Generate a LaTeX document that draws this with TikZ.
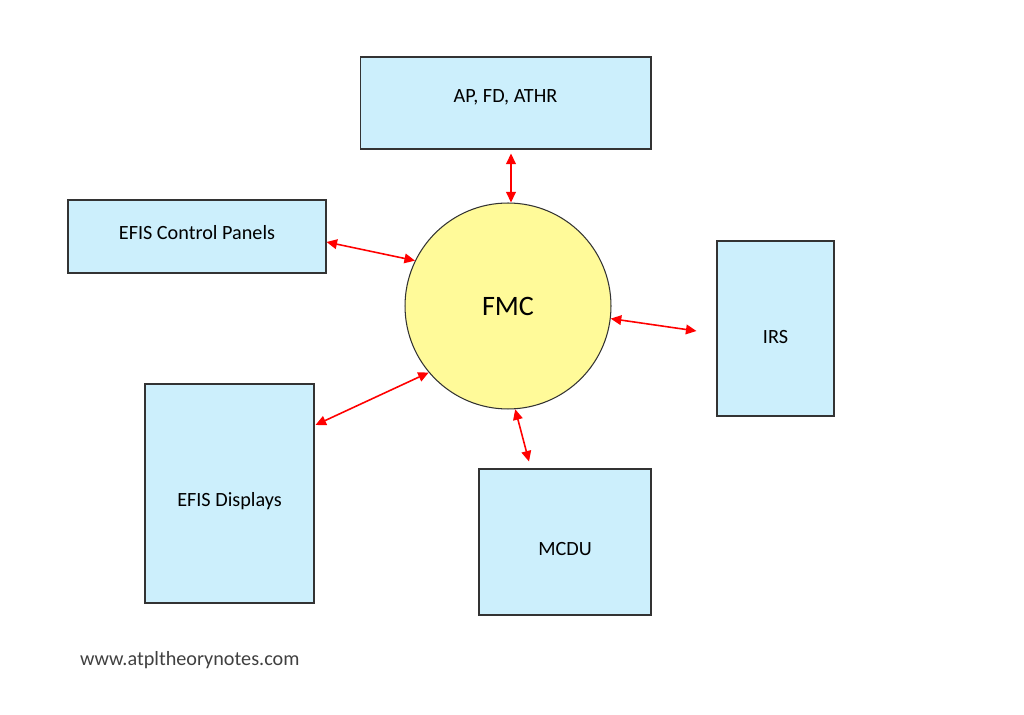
\documentclass[tikz,border=0pt]{standalone}
\usepackage{fontspec}
\setmainfont{Carlito}
\usetikzlibrary{calc}
\usetikzlibrary{arrows.meta}

\tikzset{
  unit/.style={draw=black!80, fill=cyan!20, line width=0.6pt, inner sep=0pt},
  unittext/.style={font=\fontsize{11.5}{13}\selectfont},
  fmcball/.style={circle, draw=black!80, fill=yellow!40, line width=0.6pt, minimum size=4.12cm, inner sep=0pt, font=\fontsize{16}{18}\selectfont},
  link/.style={draw=red, line width=0.9pt, {Triangle[length=6pt,width=5.5pt]}-{Triangle[length=6pt,width=5.5pt]}}
}

\begin{document}
\begin{tikzpicture}[x=0.02cm, y=-0.02cm]
\useasboundingbox (0,0) rectangle (1024,715);
% units round the FMC
\node[unit, minimum width=5.82cm, minimum height=1.84cm, label={[unittext, yshift=0.12cm]center:AP, FD, ATHR}] (ap) at (505.5,103) {};
\node[unit, minimum width=5.16cm, minimum height=1.46cm, label={[unittext, yshift=0.08cm]center:EFIS Control Panels}] (efiscp) at (197,236.5) {};
\node[unit, minimum width=2.34cm, minimum height=3.5cm, label={[unittext, yshift=-0.17cm]center:IRS}] (irs) at (775.5,328.5) {};
\node[unit, minimum width=3.38cm, minimum height=4.38cm, label={[unittext, yshift=-0.15cm]center:EFIS Displays}] (efisd) at (229.5,493.5) {};
\node[unit, minimum width=3.44cm, minimum height=2.92cm, label={[unittext, yshift=-0.14cm]center:MCDU}] (mcdu) at (565,542) {};
\node[fmcball] (fmc) at (508,306) {FMC};
% links
\draw[link] ($(ap.south)+(5.5,4)$) -- ($(fmc.north)+(3,0)$);
\draw[link] ($(efiscp.east)+(0,5.5)$) -- (fmc.154);
\draw[link] (fmc.-7) -- ($(irs.west)+(-20,2.5)$);
\draw[link] ($(efisd.east)+(1,-68.5)$) -- (fmc.220);
\draw[link] (fmc.-86) -- ($(mcdu.north)+(-36,-7)$);
\node[anchor=west, font=\fontsize{11.5}{13}\selectfont, text=black!75] (site) at (74,660) {www.atpltheorynotes.com};
\end{tikzpicture}
\end{document}
